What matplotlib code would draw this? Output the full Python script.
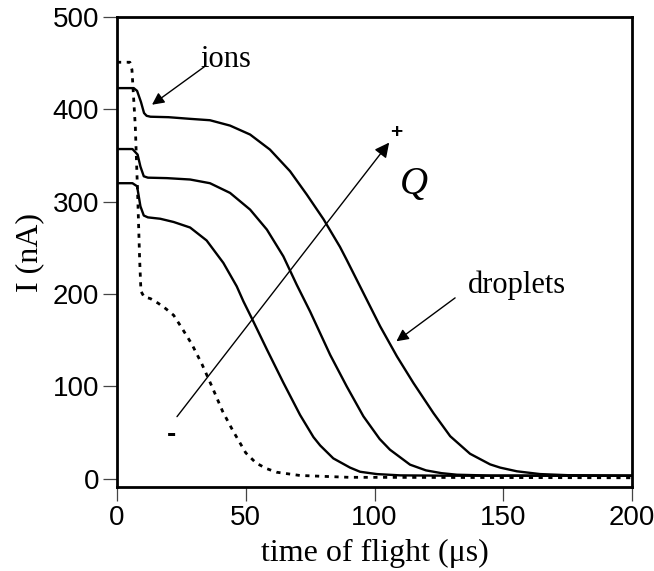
import numpy as np
import matplotlib.pyplot as plt

# values (time of flight in us, current in nA)
t_low = [0, 6, 7.8, 9.1, 10.4, 12, 16.8, 22, 28.4, 34.8, 41.3, 46.5, 49.1, 52.3,
         58.2, 64.6, 71.1, 76.3, 78.9, 84, 90.5, 94.4, 100.9, 110, 130, 200]
i_low = [320, 320, 316.7, 295, 285, 283, 281.5, 278, 272, 258, 233.7, 208.3, 192,
         174, 140, 104, 69, 45, 36, 22, 12, 7.5, 5, 3.6, 3.2, 3.2]

t_mid = [0, 6, 8, 9.1, 10.4, 12, 19.4, 28.4, 36.1, 43.9, 51.7, 58.2, 64.6, 69.8,
         75, 82.8, 89.2, 95.7, 102, 106, 113.8, 120, 126, 132, 145, 200]
i_mid = [357, 357, 351, 338, 327.5, 326, 325.5, 324, 320, 309.5, 291.4, 269.8,
         240.8, 210, 181, 134, 100, 67.5, 43, 31.4, 15.2, 9, 6, 4.3, 3.4, 3.2]

t_high = [0, 6.5, 7.8, 9.3, 10.5, 11.5, 13, 20, 28.4, 36.1, 43.9, 51.7, 59.4,
          67.2, 73.7, 80.2, 86.6, 89.2, 95.7, 102.2, 108.7, 115.1, 122.9, 129.4,
          137.1, 144.9, 148.8, 155.3, 164.3, 175, 200]
i_high = [423, 423, 420, 408, 396, 393, 392, 391.5, 389.7, 388.2, 382.4, 372.7,
          356.4, 333, 307.7, 281, 251, 237, 201, 165, 132.5, 103.7, 71, 46, 27,
          15.5, 12, 8, 5, 3.8, 3.2]

t_ref = [0, 5, 5.8, 7.1, 8, 8.8, 9.3, 10.5, 13, 16, 19, 22, 25, 29, 33, 37, 41,
         45, 50, 54, 58, 62, 71, 90, 200]
i_ref = [451, 451, 443, 382, 310, 237, 203, 197, 195, 190, 184, 177, 164, 146,
         124, 99, 73, 52, 28, 17, 11, 7, 3.5, 1.5, 1]

xticks = [0, 50, 100, 150, 200]
yticks = [0, 100, 200, 300, 400, 500]

fig = plt.figure(figsize=(6.54, 5.71), dpi=100)
ax = fig.add_axes([117/654, 1-487/571, 515/654, 470/571])

ax.plot(t_ref, i_ref, color="black", lw=2.0, linestyle=(0, (1.5, 2)))
ax.plot(t_low, i_low, color="black", lw=1.7)
ax.plot(t_mid, i_mid, color="black", lw=1.7)
ax.plot(t_high, i_high, color="black", lw=1.7)

ax.set_xlim(0, 200)
ax.set_ylim(-9, 500)
ax.set_xticks(xticks)
ax.set_yticks(yticks)
for s in ax.spines.values():
    s.set_linewidth(2.0)
ax.tick_params(direction="out", length=10, width=0.9, color="#444444", pad=3)
for lab in ax.get_xticklabels() + ax.get_yticklabels():
    lab.set_fontfamily("Liberation Sans")
    lab.set_fontsize(20)

serif = "Liberation Serif"
ax.set_xlabel("time of flight (\u03bcs)", fontfamily=serif, fontsize=23, labelpad=6)
ax.set_ylabel("I (nA)", fontfamily=serif, fontsize=23, labelpad=6)

# annotations
ax.annotate("", xy=(13.6, 405), xytext=(34.2, 446.7),
            arrowprops=dict(arrowstyle="-|>", color="black", lw=1.0,
                            mutation_scale=18, shrinkA=0, shrinkB=0))
ax.text(32.2, 446, "ions", fontfamily=serif, fontsize=22, va="baseline", ha="left")

ax.annotate("", xy=(108.5, 148.8), xytext=(131.3, 195.8),
            arrowprops=dict(arrowstyle="-|>", color="black", lw=1.0,
                            mutation_scale=18, shrinkA=0, shrinkB=0))
ax.text(136.4, 201, "droplets", fontfamily=serif, fontsize=22, va="baseline", ha="left")

ax.annotate("", xy=(105.7, 364), xytext=(23.3, 67.2),
            arrowprops=dict(arrowstyle="-|>", color="black", lw=1.0,
                            mutation_scale=22, shrinkA=0, shrinkB=0))
ax.text(108.6, 375, "+", fontfamily="Liberation Sans", fontweight="bold",
        fontsize=15, ha="center", va="center")
ax.text(21, 47, "-", fontfamily="Liberation Sans", fontweight="bold",
        fontsize=20, ha="center", va="center")
ax.text(115.3, 318.5, "Q", fontfamily=serif, fontstyle="italic",
        fontsize=28, ha="center", va="center")

fig.savefig("out.png", dpi=100)
